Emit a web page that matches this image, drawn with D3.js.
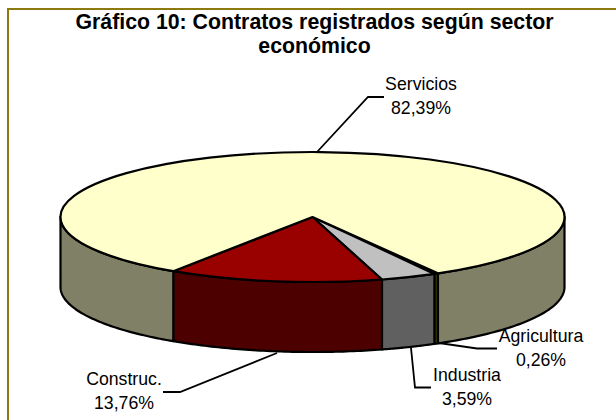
<!DOCTYPE html>
<html>
<head>
<meta charset="utf-8">
<script src="https://cdn.jsdelivr.net/npm/d3@7"></script>
<style>
  html, body { margin: 0; padding: 0; background: #fff; }
  svg { display: block; }
  text { font-family: "Liberation Sans", Arial, sans-serif; fill: #000; }
</style>
</head>
<body>
<div id="chart"></div>
<script>
// clockwise order, starting from the thin Agricultura slice
const categories = ["Agricultura", "Industria", "Construc.", "Servicios"];
const shares = [0.26, 3.59, 13.76, 82.39];
const shareLabels = ["0,26%", "3,59%", "13,76%", "82,39%"];
const topColors = ["#808000", "#C0C0C0", "#990000", "#FFFFCC"];
const sideColors = ["#404000", "#606060", "#4D0000", "#808066"];
const titleLines = ["Gráfico 10: Contratos registrados según sector", "económico"];

const W = 616, H = 420;
const cx = 312.5, cy = 217, rx = 252, ry = 65, depth = 70;

const svg = d3.select("#chart").append("svg").attr("width", W).attr("height", H);

// frame: only the top and left edges show
svg.append("path")
  .attr("d", `M8,${H}V9H${W}`)
  .attr("fill", "none").attr("stroke", "#8C7A10").attr("stroke-width", 2);

svg.selectAll(".title").data(titleLines).join("text")
  .attr("class", "title")
  .attr("x", 314.5).attr("y", (d, i) => 29 + i * 24)
  .attr("text-anchor", "middle")
  .attr("font-size", "21.3px").attr("font-weight", "bold")
  .text(d => d);

// pie angles, 0 = 12 o'clock going clockwise
const startAt = 150.14 * Math.PI / 180;
const pie = d3.pie().sort(null)
  .startAngle(startAt)
  .endAngle(startAt + 2 * Math.PI);
const slices = pie(shares).map((d, i) => ({ ...d, i }));

const px = a => cx + rx * Math.sin(a);
const py = a => cy - ry * Math.cos(a);

// front wall piece between two angles
function wallPath(a0, a1) {
  const pts = [];
  const n = 60;
  for (let k = 0; k <= n; k++) pts.push(a0 + (a1 - a0) * k / n);
  const line = d3.line().x(a => px(a));
  const upper = line.y(a => py(a))(pts);
  const lower = line.y(a => py(a) + depth)(pts.slice().reverse());
  return upper + "L" + lower.slice(1) + "Z";
}

const g = svg.append("g")
  .attr("stroke", "#000").attr("stroke-width", 2.2).attr("stroke-linejoin", "round");

// walls: only the front half (PI/2 .. 3PI/2) can be seen
slices.forEach(s => {
  const lo = Math.PI / 2, hi = 3 * Math.PI / 2;
  for (const shift of [-2 * Math.PI, 0, 2 * Math.PI]) {
    const a0 = Math.max(s.startAngle + shift, lo);
    const a1 = Math.min(s.endAngle + shift, hi);
    if (a1 > a0) g.append("path").attr("d", wallPath(a0, a1)).attr("fill", sideColors[s.i]);
  }
});

// top faces
slices.forEach(s => {
  const large = s.endAngle - s.startAngle > Math.PI ? 1 : 0;
  g.append("path")
    .attr("d", `M${cx},${cy}L${px(s.startAngle)},${py(s.startAngle)}` +
      `A${rx},${ry} 0 ${large} 1 ${px(s.endAngle)},${py(s.endAngle)}Z`)
    .attr("fill", topColors[s.i]);
});

// leader lines
const leaders = [
  [[439, 343], [477, 348.5], [497, 348.5]],
  [[411, 348], [415, 387.5], [431, 387.5]],
  [[277, 353], [180, 392], [163, 392]],
  [[317, 152], [368, 97], [384, 97]]
];
const leaderLine = d3.line();
svg.selectAll(".leader").data(leaders).join("path")
  .attr("class", "leader")
  .attr("d", leaderLine)
  .attr("fill", "none").attr("stroke", "#000").attr("stroke-width", 1.8);

// data labels
const labelPos = [[541, 342], [467, 381], [124, 385], [421, 90]];
categories.forEach((c, i) => {
  svg.append("text").attr("x", labelPos[i][0]).attr("y", labelPos[i][1])
    .attr("text-anchor", "middle").attr("font-size", "17.7px").text(c);
  svg.append("text").attr("x", labelPos[i][0]).attr("y", labelPos[i][1] + 24)
    .attr("text-anchor", "middle").attr("font-size", "17.7px").text(shareLabels[i]);
});
</script>
</body>
</html>
